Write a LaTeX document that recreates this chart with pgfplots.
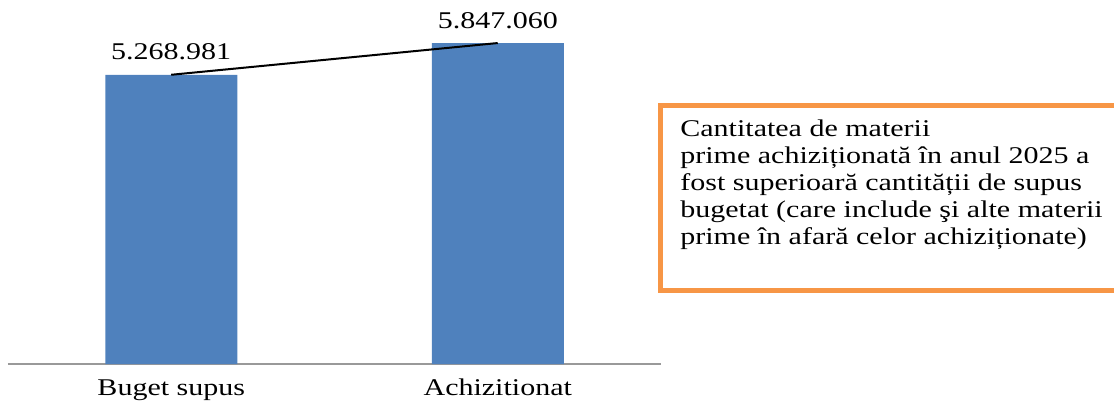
\documentclass[border=0pt]{standalone}
\usepackage{pgfplots}
\pgfplotsset{compat=1.18}
\usepackage{fontspec}
\setmainfont{Liberation Serif}[FakeStretch=1.25]
\definecolor{barblue}{HTML}{4F81BD}
\definecolor{boxorange}{HTML}{F79646}
\definecolor{axisgray}{HTML}{999999}
\begin{document}
\begin{tikzpicture}[font=\fontsize{12}{13.5}\selectfont]
\useasboundingbox (-4pt,-19pt) rectangle (553pt,182pt);
\clip (-4pt,-19pt) rectangle (553pt,182pt);
\begin{axis}[
  at={(0pt,0pt)}, anchor=south west,
  scale only axis, width=326.5pt, height=178.4pt,
  xmin=-0.5, xmax=1.5, ymin=0, ymax=6500000,
  axis x line=bottom, axis y line=none,
  x axis line style={axisgray, line width=1pt, -},
  xtick={0,1}, xticklabels={Buget supus, Achizitionat},
  major tick length=0pt, ytick=\empty,
  xticklabel style={anchor=base, yshift=-15.5pt, font=\fontsize{12}{13.5}\selectfont},
  clip=false,
]
\addplot[ybar, fill=barblue, draw=none, bar width=66pt,
  point meta=explicit symbolic, nodes near coords,
  every node near coord/.append style={anchor=base, yshift=7.5pt, black, font=\fontsize{12}{13.5}\selectfont}]
  coordinates {(0,5268981) [5.268.981] (1,5847060) [5.847.060]};
\addplot[black, line width=1pt, mark=none] coordinates {(0,5268981) (1,5847060)};
\end{axis}
\draw[boxorange, line width=2.5pt] (560pt,129pt) -- (326.25pt,129pt) -- (326.25pt,37pt) -- (560pt,37pt);
\node[anchor=north west, align=left, inner sep=0pt] at (336pt,122.2pt)
  {Cantitatea de materii\\prime achiziționată în anul 2025 a\\fost superioară cantității de supus\\bugetat (care include şi alte materii\\prime în afară celor achiziționate)};
\end{tikzpicture}
\end{document}
